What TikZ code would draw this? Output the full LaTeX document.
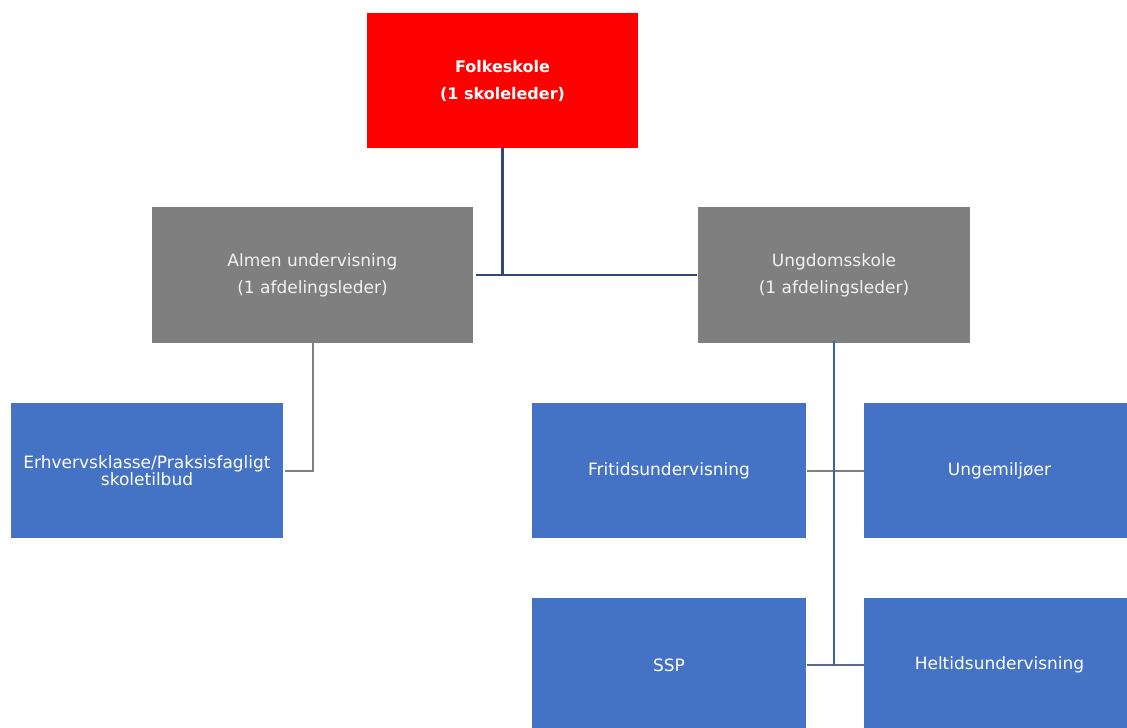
\documentclass[tikz,border=0pt]{standalone}
\usepackage{fontspec}
\setmainfont{DejaVu Sans}
\begin{document}
\begin{tikzpicture}[x=1pt,y=-1pt,
  box/.style={draw=none,rectangle,inner sep=0pt,minimum width=271pt,minimum height=135pt,align=center,text=white},
  redbox/.style={box,fill={rgb,255:red,255;green,0;blue,0},font=\fontsize{16}{27}\selectfont\bfseries},
  graybox/.style={box,fill={rgb,255:red,127;green,127;blue,127},text={rgb,255:red,242;green,242;blue,242},font=\fontsize{17}{27}\selectfont},
  bluebox/.style={box,fill={rgb,255:red,68;green,114;blue,196},font=\fontsize{17}{14}\selectfont},
  navyline/.style={draw={rgb,255:red,47;green,72;blue,125},line width=2.5pt},
  blueline/.style={draw={rgb,255:red,59;green,96;blue,170},line width=2pt},
  grayline/.style={draw={rgb,255:red,127;green,127;blue,127},line width=2pt},
  mixline/.style={draw={rgb,255:red,90;green,105;blue,140},line width=2pt}]
\useasboundingbox (0,0) rectangle (1127,728);
\clip (0,0) rectangle (1127,728);
\node[redbox] (folk) at (502.5,80.5) {Folkeskole\\(1 skoleleder)};
\node[graybox,minimum width=321pt,minimum height=136pt] (almen) at (312.5,275) {Almen undervisning\\(1 afdelingsleder)};
\node[graybox,minimum width=272pt,minimum height=136pt] (ungdom) at (834,275) {Ungdomsskole\\(1 afdelingsleder)};
\node[bluebox,minimum width=272pt] (erh) at (147,470.5) {Erhvervsklasse/Praksisfagligt\\skoletilbud};
\node[bluebox,minimum width=274pt] (frit) at (669,470.5) {Fritidsundervisning};
\node[bluebox,minimum width=271pt] (ungem) at (999.5,470.5) {Ungemiljøer};
\node[bluebox,minimum width=274pt] (ssp) at (669,665) {SSP};
\node[bluebox,minimum width=271pt] (helt) at (999.5,665) {Heltidsundervisning};
\draw[navyline] (folk.south) -- (folk.south |- almen.east);
\draw[navyline] ([xshift=3pt]almen.east) -- ([xshift=-1pt]ungdom.west);
\draw[grayline] ([yshift=2pt]almen.south) |- ([xshift=2pt]erh.east);
\draw[grayline] ([xshift=1pt]frit.east) -- (ungem.west);
\draw[mixline] ([xshift=1pt]ssp.east) -- (helt.west);
\draw[blueline] ([yshift=2pt]ungdom.south) -- (ungdom.south |- ssp.east);
\end{tikzpicture}
\end{document}
